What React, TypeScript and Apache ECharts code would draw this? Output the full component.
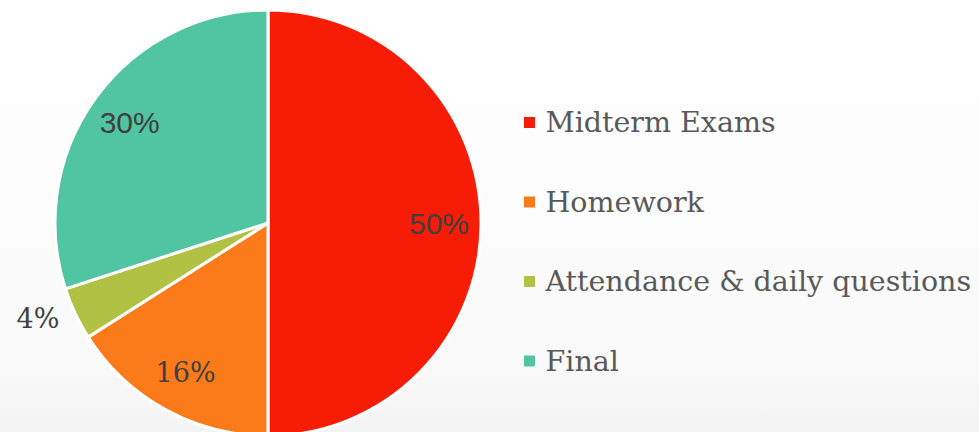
import React, { useEffect, useRef } from "react";
import * as echarts from "echarts";

const categories = ["Midterm Exams", "Homework", "Attendance & daily questions", "Final"];
const values = [50, 16, 4, 30];
const colors = ["#F71C05", "#FB7A19", "#B1C144", "#51C5A2"];
// which label sits outside the pie, and which labels use the sans font
const outsideLabel = [false, false, true, false];
const sansLabel = [true, false, false, true];

const SERIF = "Rockwell, 'DejaVu Serif', serif";
const SANS = "Arial, 'Liberation Sans', sans-serif";

export default function App() {
  const ref = useRef<HTMLDivElement>(null);
  useEffect(() => {
    if (!ref.current) return;
    const chart = echarts.init(ref.current, null, { renderer: "svg" });
    const labelStyle = (i: number) => ({
      color: "#404040",
      fontSize: sansLabel[i] ? 30 : 27,
      fontFamily: sansLabel[i] ? SANS : SERIF,
      formatter: "{c}%",
    });
    const mainData = categories.map((name, i) => ({
      name,
      value: values[i],
      itemStyle: { color: colors[i] },
      label: { show: outsideLabel[i], ...labelStyle(i) },
    }));
    const labelData = categories.map((name, i) => ({
      name,
      value: values[i],
      itemStyle: { color: "rgba(0,0,0,0)" },
      label: { show: !outsideLabel[i], ...labelStyle(i) },
    }));
    chart.setOption({
      animation: false,
      backgroundColor: {
        type: "linear",
        x: 0,
        y: 0,
        x2: 0,
        y2: 1,
        colorStops: [
          { offset: 0, color: "#FFFFFF" },
          { offset: 0.5, color: "#FCFCFC" },
          { offset: 0.85, color: "#F9F9F9" },
          { offset: 1, color: "#F3F3F3" },
        ],
      },
      legend: {
        orient: "vertical",
        left: 523,
        top: 107.5,
        padding: 0,
        icon: "rect",
        itemWidth: 12,
        itemHeight: 12,
        itemGap: 49.5,
        data: categories,
        itemStyle: { borderWidth: 1, borderColor: "#FFFFFF" },
        textStyle: {
          color: "#595959",
          fontSize: 28.5,
          lineHeight: 30,
          fontFamily: SERIF,
          padding: [0, 0, 0, 5],
        },
      },
      series: [
        {
          type: "pie",
          center: [268, 223],
          radius: [0, 213],
          startAngle: 90,
          clockwise: true,
          avoidLabelOverlap: false,
          silent: true,
          itemStyle: { borderColor: "#FFFFFF", borderWidth: 3 },
          label: { position: "outside" },
          labelLine: { show: false, length: 12, length2: 0 },
          data: mainData,
        },
        {
          type: "pie",
          center: [268, 223],
          radius: [123, 213],
          startAngle: 90,
          clockwise: true,
          avoidLabelOverlap: false,
          silent: true,
          legendHoverLink: false,
          itemStyle: { borderWidth: 0 },
          label: { position: "inside" },
          labelLine: { show: false },
          data: labelData,
        },
      ],
    });
    return () => chart.dispose();
  }, []);
  return (
    <div
      ref={ref}
      style={{ position: "absolute", left: 0, top: 0, width: 979, height: 432 }}
    />
  );
}
